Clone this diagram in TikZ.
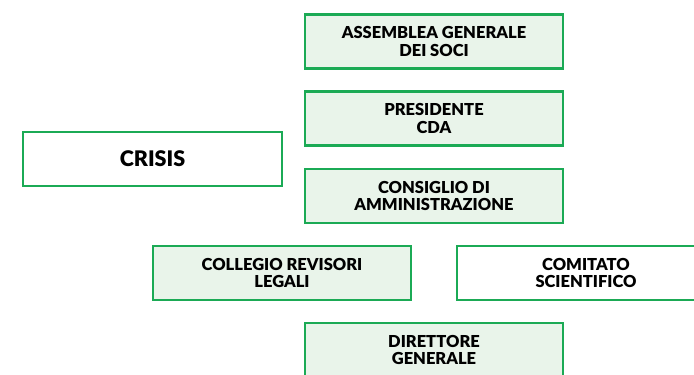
\documentclass[tikz,border=0pt]{standalone}
\usepackage{fontspec}
\setmainfont{Lato}[BoldFont={Lato Black}]
\definecolor{boxgreen}{HTML}{1BAA55}
\definecolor{boxfill}{HTML}{E9F4EA}
\begin{document}
\begin{tikzpicture}[x=1pt,y=-1pt,
		organo/.style={draw=boxgreen,line width=2.6pt,fill=boxfill,minimum width=258pt,minimum height=54pt,
			align=center,font=\fontsize{16.5}{17.7}\selectfont\bfseries,inner sep=0pt},
		organobianco/.style={organo,fill=white}]
		\useasboundingbox (0,0) rectangle (694,375);
		\clip (0,0) rectangle (694,375);
		\node[organo] (assemblea) at (434,41.5) {ASSEMBLEA GENERALE\\DEI SOCI};
		\node[organo] (presidente) at (434,118.5) {PRESIDENTE\\CDA};
		\node[organobianco,minimum width=259pt,font=\fontsize{21.5}{24}\selectfont\bfseries] (crisis) at (152.5,159) {CRISIS};
		\node[organo] (consiglio) at (434,196) {CONSIGLIO DI\\AMMINISTRAZIONE};
		\node[organo] (collegio) at (282,273) {COLLEGIO REVISORI\\LEGALI};
		\node[organobianco] (comitato) at (586,273) {COMITATO\\SCIENTIFICO};
		\node[organo] (direttore) at (434,350) {DIRETTORE\\GENERALE};
	\end{tikzpicture}
\end{document}
